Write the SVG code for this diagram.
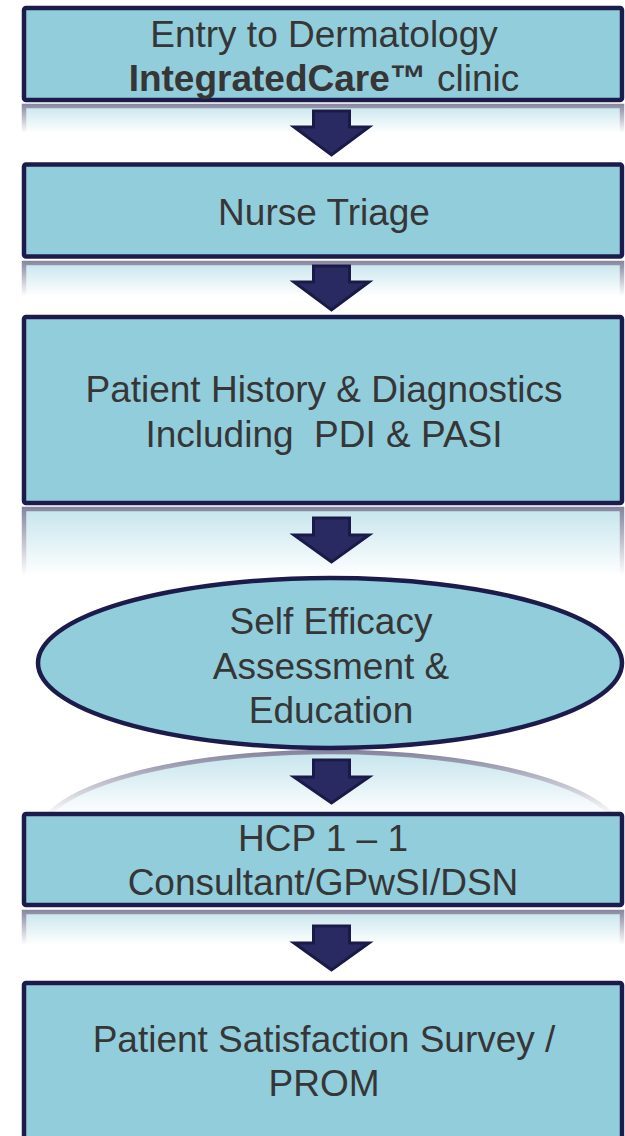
<svg xmlns="http://www.w3.org/2000/svg" width="625" height="1136" viewBox="0 0 625 1136">
<style>
.box{fill:#92cddc;stroke:#1c1c4c;stroke-width:4.5}
.lbl{font-family:"Liberation Sans",Arial,sans-serif;font-size:37px;fill:#363636;text-anchor:middle}
.arr{fill:#2a2a62;stroke:#1a1a48;stroke-width:3;stroke-linejoin:miter}
</style>
<defs>
<linearGradient id="fade" x1="0" y1="0" x2="0" y2="1">
<stop offset="0" stop-color="#fff" stop-opacity="0.55"/>
<stop offset="1" stop-color="#fff" stop-opacity="0"/>
</linearGradient>
<mask id="m1" maskUnits="userSpaceOnUse" x="0" y="0" width="625" height="1136"><rect x="0" y="103" width="625" height="30" fill="url(#fade)"/></mask>
<mask id="m2" maskUnits="userSpaceOnUse" x="0" y="0" width="625" height="1136"><rect x="0" y="260" width="625" height="36" fill="url(#fade)"/></mask>
<mask id="m3" maskUnits="userSpaceOnUse" x="0" y="0" width="625" height="1136"><rect x="0" y="506" width="625" height="70" fill="url(#fade)"/></mask>
<mask id="m4" maskUnits="userSpaceOnUse" x="0" y="0" width="625" height="1136"><rect x="0" y="750" width="625" height="66" fill="url(#fade)"/></mask>
<mask id="m5" maskUnits="userSpaceOnUse" x="0" y="0" width="625" height="1136"><rect x="0" y="909" width="625" height="36" fill="url(#fade)"/></mask>
</defs>
<rect width="625" height="1136" fill="#fff"/>
<g id="reflections">
<g mask="url(#m1)"><rect class="box" x="24" y="106" width="598" height="92"/></g>
<g mask="url(#m2)"><rect class="box" x="24" y="263" width="598" height="92"/></g>
<g mask="url(#m3)"><rect class="box" x="24" y="509" width="598" height="186"/></g>
<g mask="url(#m4)"><ellipse class="box" cx="330" cy="837" rx="292" ry="85"/></g>
<g mask="url(#m5)"><rect class="box" x="24" y="912" width="598" height="91"/></g>
</g>
<g id="n1">
<rect class="box" x="24" y="8" width="598" height="92" rx="2"/>
<text class="lbl" x="324" y="47">Entry to Dermatology</text>
<text class="lbl" x="324" y="91"><tspan font-weight="bold">IntegratedCare™</tspan> clinic</text>
</g>
<g id="n2">
<rect class="box" x="24" y="164.5" width="598" height="92" rx="2"/>
<text class="lbl" x="324" y="225">Nurse Triage</text>
</g>
<g id="n3">
<rect class="box" x="24" y="317" width="598" height="186" rx="2"/>
<text class="lbl" x="324" y="402">Patient History &amp; Diagnostics</text>
<text class="lbl" x="324" y="447" xml:space="preserve">Including  PDI &amp; PASI</text>
</g>
<g id="n4">
<ellipse class="box" cx="330" cy="663" rx="292" ry="85"/>
<text class="lbl" x="331" y="634">Self Efficacy</text>
<text class="lbl" x="331" y="679">Assessment &amp;</text>
<text class="lbl" x="331" y="723">Education</text>
</g>
<g id="n5">
<rect class="box" x="24" y="814" width="598" height="91" rx="2"/>
<text class="lbl" x="323" y="851">HCP 1 – 1</text>
<text class="lbl" x="323" y="895">Consultant/GPwSI/DSN</text>
</g>
<g id="n6">
<rect class="box" x="24" y="983" width="598" height="200" rx="2"/>
<text class="lbl" x="324" y="1052">Patient Satisfaction Survey /</text>
<text class="lbl" x="324" y="1096">PROM</text>
</g>
<g id="connectors">
<path class="arr" d="M313.5,111 H349.5 V127 H369 L331.5,155 L294,127 H313.5 Z"/>
<path class="arr" d="M313.5,266 H349.5 V282 H369 L331.5,310 L294,282 H313.5 Z"/>
<path class="arr" d="M313.5,518 H349.5 V535 H369 L331.5,562 L294,535 H313.5 Z"/>
<path class="arr" d="M313.5,760 H349.5 V777 H369 L331.5,803 L294,777 H313.5 Z"/>
<path class="arr" d="M313.5,926 H349.5 V943 H369 L331.5,970 L294,943 H313.5 Z"/>
</g>
</svg>
